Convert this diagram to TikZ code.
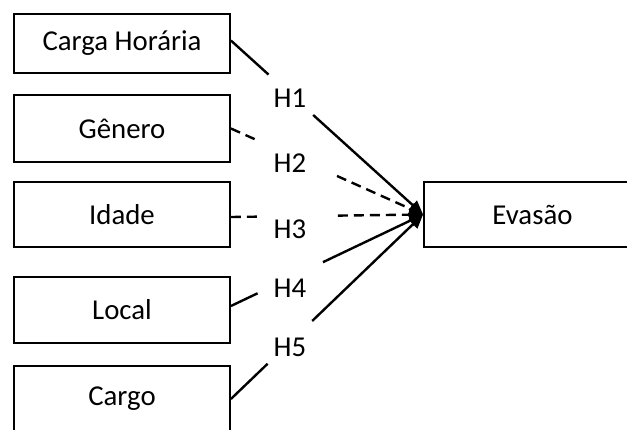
\documentclass[tikz,border=0pt]{standalone}
\usepackage{fontspec}
\setmainfont{Carlito}
\usetikzlibrary{arrows.meta,calc}
\begin{document}
\begin{tikzpicture}[x=0.5pt,y=-0.5pt,
  box/.style={draw=black,line width=0.9pt,fill=white,inner sep=0pt,font=\fontsize{14.4}{16}\selectfont},
  hyp/.style={inner sep=0pt,font=\fontsize{14.4}{16}\selectfont},
  conn/.style={line width=1.2pt,draw=black},
  dsh/.style={conn,dash pattern=on 5pt off 3pt},
  tip/.style={-{Triangle[length=7pt,width=6pt]}}]
\clip (0,0) rectangle (627,429);
\useasboundingbox (0,0) rectangle (627,429);
% boxes
\node[box,minimum width=108pt,minimum height=29.5pt] (c1) at (122,43.5) {Carga Horária};
\node[box,minimum width=108pt,minimum height=33.5pt] (c2) at (122,128.5) {Gênero};
\node[box,minimum width=108pt,minimum height=32.5pt] (c3) at (122,214.5) {Idade};
\node[box,minimum width=108pt,minimum height=33pt] (c4) at (122,310) {Local};
\node[box,minimum width=108pt,minimum height=33pt] (c5) at (122,399) {Cargo};
\node[box,minimum width=108.5pt,minimum height=32.5pt] (ev) at (532.5,214.5) {Evasão};
% connectors
\coordinate (s1) at ($(c1.east)+(0,-3)$);
\coordinate (s3) at ($(c3.east)+(0,2.5)$);
\coordinate (s4) at ($(c4.east)+(0,-4)$);
\draw[conn] (s1) -- ($(s1)!0.196!(ev.west)$);
\draw[conn,tip] ($(s1)!0.428!(ev.west)$) -- (ev.west);
\draw[dsh] (c2.east) -- ($(c2.east)!0.129!(ev.west)$);
\draw[dsh,tip] ($(c2.east)!0.552!(ev.west)$) -- (ev.west);
\draw[dsh] (s3) -- ($(s3)!0.139!(ev.west)$);
\draw[dsh,tip] ($(s3)!0.557!(ev.west)$) -- (ev.west);
\draw[conn] (s4) -- ($(s4)!0.139!(ev.west)$);
\draw[conn,tip] ($(s4)!0.479!(ev.west)$) -- (ev.west);
\draw[conn] (c5.east) -- ($(c5.east)!0.191!(ev.west)$);
\draw[conn,tip] ($(c5.east)!0.423!(ev.west)$) -- (ev.west);
% labels
\node[hyp] (h1) at (290,98) {H1};
\node[hyp] (h2) at (290,163) {H2};
\node[hyp] (h3) at (290,229) {H3};
\node[hyp] (h4) at (290,288) {H4};
\node[hyp] (h5) at (290,347) {H5};
\end{tikzpicture}
\end{document}
